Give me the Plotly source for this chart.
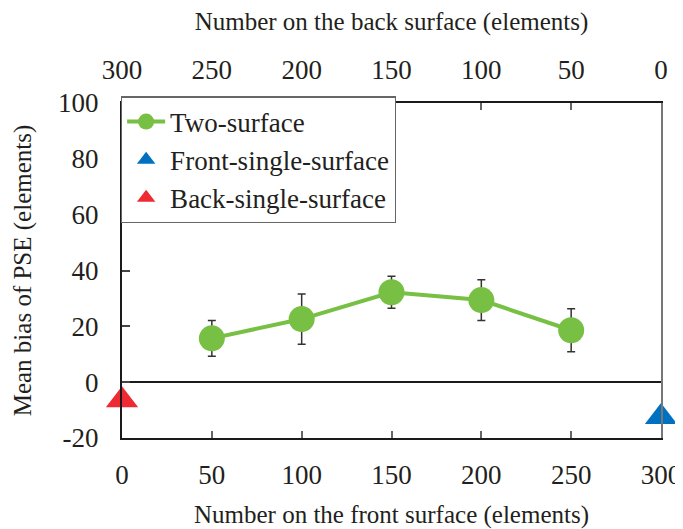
import plotly.graph_objects as go

front_counts = [50, 100, 150, 200, 250]
two_surface_bias = [15.7, 22.6, 32.2, 29.4, 18.6]
two_surface_err = [6.4, 9.0, 5.7, 7.3, 7.7]

front_single_x = [300]
front_single_bias = [-12.5]

back_single_x_back = [300]   # 300 elements on the back surface (=0 on the front)
back_single_bias = [-6.5]

x_ticks = [0, 50, 100, 150, 200, 250, 300]
y_ticks = [-20, 0, 20, 40, 60, 80, 100]

FONT = "Liberation Serif"
TXT = "#231f20"
GREEN = "#77c043"
BLUE = "#0070c0"
RED = "#ee2a33"

fig = go.Figure()

fig.add_trace(go.Scatter(
    x=front_counts, y=two_surface_bias, name="Two-surface",
    mode="lines+markers",
    line=dict(color=GREEN, width=4),
    marker=dict(color=GREEN, size=26),
    error_y=dict(type="data", array=two_surface_err, color="#333333",
                 thickness=1.5, width=4),
    cliponaxis=False,
))
fig.add_trace(go.Scatter(
    x=front_single_x, y=front_single_bias, name="Front-single-surface",
    mode="markers",
    marker=dict(color=BLUE, size=28, symbol="triangle-up"),
    cliponaxis=False,
))
fig.add_trace(go.Scatter(
    x=back_single_x_back, y=back_single_bias, name="Back-single-surface",
    mode="markers", xaxis="x2", yaxis="y2",
    marker=dict(color=RED, size=28, symbol="triangle-up"),
    cliponaxis=False,
))

axis_font = dict(family=FONT, size=27, color=TXT)
title_font = dict(family=FONT, size=25, color=TXT)

# page body has an 8px default margin; figure is sized/offset to compensate
fig.update_layout(
    width=700, height=521,
    margin=dict(l=114, r=47, t=95, b=91),
    paper_bgcolor="white", plot_bgcolor="white",
    font=dict(family=FONT, color=TXT),
    showlegend=True,
    legend=dict(
        x=-0.002, y=1.02, xanchor="left", yanchor="top",
        bgcolor="white", bordercolor="#666666", borderwidth=1.2,
        font=dict(family=FONT, size=27, color=TXT),
        itemwidth=38,
    ),
    xaxis=dict(
        range=[0, 300], tickvals=x_ticks, ticktext=[str(v) for v in x_ticks],
        showline=True, linecolor="#1a1a1a", linewidth=2.2,
        ticks="inside", ticklen=7, tickwidth=1.5, tickcolor="#666666",
        showgrid=False, zeroline=False, automargin=False,
        tickfont=axis_font, ticklabelstandoff=11,
        title=dict(text="Number on the front surface (elements)",
                   font=title_font, standoff=25),
    ),
    xaxis2=dict(
        range=[300, 0], overlaying="x", side="top", anchor="y",
        tickvals=x_ticks, ticktext=[str(v) for v in x_ticks],
        showline=True, linecolor="#1a1a1a", linewidth=2.2,
        ticks="inside", ticklen=7, tickwidth=1.5, tickcolor="#666666",
        showgrid=False, zeroline=False, automargin=False,
        tickfont=axis_font, ticklabelstandoff=11,
        title=dict(text="Number on the back surface (elements)",
                   font=title_font, standoff=19),
    ),
    yaxis=dict(
        range=[-20, 100], tickvals=y_ticks, ticktext=[str(v) for v in y_ticks],
        showline=True, linecolor="#1a1a1a", linewidth=2.2,
        ticks="inside", ticklen=8, tickwidth=1.5, tickcolor="#444444",
        showgrid=False, zeroline=True, zerolinecolor="#1a1a1a", zerolinewidth=2.2,
        automargin=False,
        tickfont=axis_font, ticklabelstandoff=16,
        title=dict(text="Mean bias of PSE (elements)", font=title_font, standoff=19),
    ),
    yaxis2=dict(
        range=[-20, 100], overlaying="y", side="right", anchor="x",
        showline=True, linecolor="#777777", linewidth=1.5, automargin=False,
        showticklabels=False, ticks="", showgrid=False, zeroline=False,
    ),
)

fig.write_html("out.html")
